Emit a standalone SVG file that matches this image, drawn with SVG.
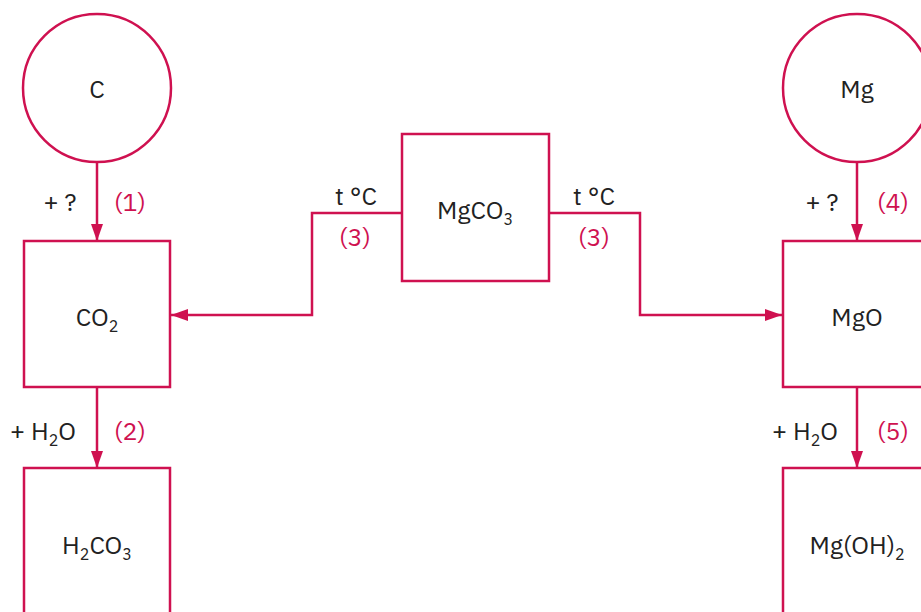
<svg xmlns="http://www.w3.org/2000/svg" width="921" height="612" viewBox="0 0 921 612">
<defs>
<style>
.n{fill:#fff;stroke:#cf1150;stroke-width:2.5}
.c{fill:none;stroke:#cf1150;stroke-width:2.5}
.t{font-family:"IBM Plex Sans","Noto Sans","Liberation Sans",sans-serif;font-size:25px;fill:#222}
.r{font-family:"IBM Plex Sans","Noto Sans","Liberation Sans",sans-serif;font-size:25px;fill:#cf1150}
.s{font-size:16px}
</style>
<marker id="ah" viewBox="0 0 17 12" refX="17" refY="6" markerWidth="17" markerHeight="12" markerUnits="userSpaceOnUse" orient="auto">
<path d="M0,0 L17,6 L0,12 Z" fill="#cf1150"/>
</marker>
</defs>
<rect width="921" height="612" fill="#fff"/>
<g id="connectors">
<line class="c" x1="97" y1="162" x2="97" y2="241" marker-end="url(#ah)"/>
<line class="c" x1="97" y1="387" x2="97" y2="468" marker-end="url(#ah)"/>
<line class="c" x1="857" y1="162" x2="857" y2="241" marker-end="url(#ah)"/>
<line class="c" x1="857" y1="387" x2="857" y2="468" marker-end="url(#ah)"/>
<polyline class="c" points="402,213 312,213 312,315 171,315" marker-end="url(#ah)"/>
<polyline class="c" points="549,213 640,213 640,315 782,315" marker-end="url(#ah)"/>
</g>
<g id="labels">
<text class="t" x="60" y="211" text-anchor="middle">+ ?</text>
<text class="r" x="130" y="211" text-anchor="middle">(1)</text>
<text class="t" x="43" y="440" text-anchor="middle">+ H<tspan class="s" dy="6">2</tspan><tspan dy="-6">O</tspan></text>
<text class="r" x="130" y="440" text-anchor="middle">(2)</text>
<text class="t" x="356" y="205" text-anchor="middle">t °C</text>
<text class="r" x="355" y="246" text-anchor="middle">(3)</text>
<text class="t" x="594" y="205" text-anchor="middle">t °C</text>
<text class="r" x="594" y="246" text-anchor="middle">(3)</text>
<text class="t" x="822" y="211" text-anchor="middle">+ ?</text>
<text class="r" x="893" y="211" text-anchor="middle">(4)</text>
<text class="t" x="805" y="440" text-anchor="middle">+ H<tspan class="s" dy="6">2</tspan><tspan dy="-6">O</tspan></text>
<text class="r" x="893" y="440" text-anchor="middle">(5)</text>
</g>
<g id="node-C">
<circle class="n" cx="97" cy="88" r="74"/>
<text class="t" x="97" y="98" text-anchor="middle">C</text>
</g>
<g id="node-CO2">
<rect class="n" x="24" y="241" width="146" height="146"/>
<text class="t" x="97" y="326" text-anchor="middle">CO<tspan class="s" dy="6">2</tspan></text>
</g>
<g id="node-H2CO3">
<rect class="n" x="24" y="468" width="146" height="150"/>
<text class="t" x="97" y="554" text-anchor="middle">H<tspan class="s" dy="6">2</tspan><tspan dy="-6">CO</tspan><tspan class="s" dy="6">3</tspan></text>
</g>
<g id="node-MgCO3">
<rect class="n" x="402" y="134" width="147" height="147"/>
<text class="t" x="475" y="219" text-anchor="middle">MgCO<tspan class="s" dy="6">3</tspan></text>
</g>
<g id="node-Mg">
<circle class="n" cx="857" cy="88" r="74"/>
<text class="t" x="857" y="98" text-anchor="middle">Mg</text>
</g>
<g id="node-MgO">
<rect class="n" x="783" y="241" width="148" height="146"/>
<text class="t" x="857" y="326" text-anchor="middle">MgO</text>
</g>
<g id="node-MgOH2">
<rect class="n" x="783" y="468" width="148" height="150"/>
<text class="t" x="857" y="554" text-anchor="middle">Mg(OH)<tspan class="s" dy="6">2</tspan></text>
</g>
</svg>
